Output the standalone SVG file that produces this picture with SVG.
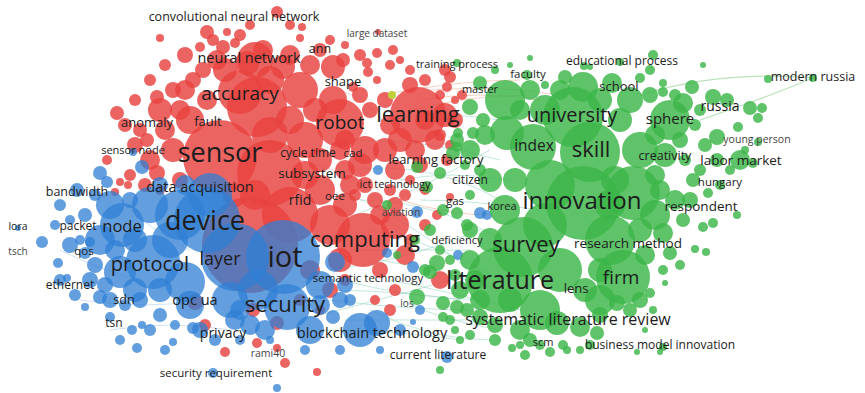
<svg xmlns="http://www.w3.org/2000/svg" width="865" height="393" viewBox="0 0 865 393">
<style>
.r{fill:#e8423f;fill-opacity:.82}
.g{fill:#3cb648;fill-opacity:.82}
.b{fill:#2f7fd4;fill-opacity:.75}
.y{fill:#bfcf3a}
.lt{fill:none;stroke:#8fd3c0;stroke-opacity:.55;stroke-width:1}
.lo{fill:none;stroke:#f2b096;stroke-opacity:.6;stroke-width:1}
.lr{fill:none;stroke:#f3a0a0;stroke-opacity:.5;stroke-width:1}
.lb{fill:none;stroke:#9ec4ea;stroke-opacity:.5;stroke-width:1}
.lg{fill:none;stroke:#a9dca9;stroke-opacity:.8;stroke-width:1.2}
text{font-family:"Open Sans","Noto Sans","DejaVu Sans",sans-serif;fill:#1c1c1c;text-anchor:middle}
.s{fill:#444}
</style>
<rect width="865" height="393" fill="#fff"/>
<g id="connectors">
<path class="lt" d="M350,170 Q430,160 500,200"/>
<path class="lt" d="M360,200 Q440,200 520,250"/>
<path class="lt" d="M370,230 Q430,240 500,280"/>
<path class="lt" d="M380,260 Q440,270 500,290"/>
<path class="lt" d="M340,280 Q420,300 490,300"/>
<path class="lt" d="M330,300 Q410,310 470,310"/>
<path class="lt" d="M345,320 Q420,320 480,320"/>
<path class="lt" d="M310,290 Q400,290 460,300"/>
<path class="lt" d="M360,140 Q430,140 500,160"/>
<path class="lt" d="M380,120 Q440,110 500,120"/>
<path class="lt" d="M400,180 Q450,170 510,180"/>
<path class="lt" d="M420,200 Q470,200 540,210"/>
<path class="lt" d="M350,250 Q420,250 470,250"/>
<path class="lt" d="M390,280 Q440,290 520,310"/>
<path class="lt" d="M320,330 Q400,330 460,340"/>
<path class="lt" d="M400,300 Q440,320 500,330"/>
<path class="lt" d="M370,310 Q430,340 490,340"/>
<path class="lt" d="M330,270 Q410,260 480,230"/>
<path class="lt" d="M340,190 Q410,220 470,270"/>
<path class="lt" d="M355,215 Q420,190 490,150"/>
<path class="lt" d="M300,320 Q380,300 450,280"/>
<path class="lo" d="M420,100 Q480,90 540,100"/>
<path class="lo" d="M410,110 Q470,95 530,95"/>
<path class="lo" d="M430,90 Q500,85 560,95"/>
<path class="lo" d="M380,95 Q460,80 520,80"/>
<path class="lo" d="M400,200 Q450,215 490,215"/>
<path class="lr" d="M300,160 Q340,170 380,190"/>
<path class="lr" d="M320,150 Q350,165 370,180"/>
<path class="lr" d="M340,90 Q370,100 390,130"/>
<path class="lb" d="M60,250 Q100,270 140,280"/>
<path class="lb" d="M80,300 Q150,310 200,300"/>
<path class="lb" d="M120,200 Q150,230 190,250"/>
<path class="lb" d="M110,330 Q170,320 230,330"/>
<path class="lg" d="M640,95 Q720,70 815,78"/>
<path class="lg" d="M700,120 Q760,100 813,78"/>
</g>
<g id="cluster-red">
<circle class="r" cx="250" cy="245" r="48"/>
<circle class="r" cx="220" cy="157" r="37"/>
<circle class="r" cx="257" cy="107" r="30"/>
<circle class="r" cx="240" cy="92" r="22"/>
<circle class="r" cx="270" cy="173" r="33"/>
<circle class="r" cx="290" cy="215" r="28"/>
<circle class="r" cx="340" cy="123" r="24"/>
<circle class="r" cx="418" cy="115" r="28"/>
<circle class="r" cx="363" cy="240" r="27"/>
<circle class="r" cx="330" cy="225" r="20"/>
<circle class="r" cx="255" cy="60" r="18"/>
<circle class="r" cx="300" cy="90" r="18"/>
<circle class="r" cx="283" cy="67" r="12"/>
<circle class="r" cx="333" cy="67" r="12"/>
<circle class="r" cx="333" cy="100" r="14"/>
<circle class="r" cx="305" cy="140" r="18"/>
<circle class="r" cx="365" cy="150" r="14"/>
<circle class="r" cx="320" cy="190" r="15"/>
<circle class="r" cx="345" cy="205" r="12"/>
<circle class="r" cx="395" cy="225" r="14"/>
<circle class="r" cx="385" cy="150" r="12"/>
<circle class="r" cx="395" cy="170" r="10"/>
<circle class="r" cx="405" cy="255" r="10"/>
<circle class="r" cx="320" cy="160" r="12"/>
<circle class="r" cx="190" cy="120" r="14"/>
<circle class="r" cx="180" cy="110" r="10"/>
<circle class="r" cx="207" cy="100" r="10"/>
<circle class="r" cx="173" cy="150" r="12"/>
<circle class="r" cx="157" cy="173" r="8"/>
<circle class="r" cx="165" cy="130" r="10"/>
<circle class="r" cx="140" cy="130" r="7"/>
<circle class="r" cx="147" cy="140" r="7"/>
<circle class="r" cx="117" cy="113" r="7"/>
<circle class="r" cx="157" cy="97" r="7"/>
<circle class="r" cx="173" cy="90" r="8"/>
<circle class="r" cx="193" cy="80" r="8"/>
<circle class="r" cx="203" cy="70" r="8"/>
<circle class="r" cx="217" cy="60" r="10"/>
<circle class="r" cx="247" cy="63" r="12"/>
<circle class="r" cx="263" cy="50" r="10"/>
<circle class="r" cx="207" cy="32" r="7"/>
<circle class="r" cx="213" cy="40" r="6"/>
<circle class="r" cx="200" cy="47" r="5"/>
<circle class="r" cx="227" cy="32" r="4"/>
<circle class="r" cx="223" cy="47" r="7"/>
<circle class="r" cx="235" cy="43" r="5"/>
<circle class="r" cx="160" cy="38" r="4"/>
<circle class="r" cx="277" cy="12" r="6"/>
<circle class="r" cx="302" cy="27" r="4"/>
<circle class="r" cx="300" cy="38" r="4"/>
<circle class="r" cx="320" cy="50" r="7"/>
<circle class="r" cx="343" cy="60" r="7"/>
<circle class="r" cx="367" cy="63" r="5"/>
<circle class="r" cx="368" cy="72" r="5"/>
<circle class="r" cx="377" cy="80" r="4"/>
<circle class="r" cx="353" cy="87" r="5"/>
<circle class="r" cx="377" cy="53" r="5"/>
<circle class="r" cx="393" cy="50" r="5"/>
<circle class="r" cx="378" cy="32" r="3"/>
<circle class="r" cx="107" cy="160" r="5"/>
<circle class="r" cx="120" cy="182" r="4"/>
<circle class="r" cx="128" cy="185" r="4"/>
<circle class="r" cx="115" cy="192" r="4"/>
<circle class="r" cx="255" cy="195" r="15"/>
<circle class="r" cx="235" cy="195" r="12"/>
<circle class="r" cx="345" cy="170" r="10"/>
<circle class="r" cx="365" cy="185" r="8"/>
<circle class="r" cx="375" cy="200" r="8"/>
<circle class="r" cx="355" cy="195" r="6"/>
<circle class="r" cx="390" cy="190" r="6"/>
<circle class="r" cx="405" cy="195" r="6"/>
<circle class="r" cx="410" cy="180" r="5"/>
<circle class="r" cx="425" cy="190" r="5"/>
<circle class="r" cx="380" cy="270" r="8"/>
<circle class="r" cx="395" cy="290" r="6"/>
<circle class="r" cx="390" cy="310" r="6"/>
<circle class="r" cx="375" cy="300" r="5"/>
<circle class="r" cx="410" cy="240" r="6"/>
<circle class="r" cx="425" cy="225" r="6"/>
<circle class="r" cx="437" cy="215" r="5"/>
<circle class="r" cx="450" cy="197" r="4"/>
<circle class="r" cx="440" cy="280" r="9"/>
<circle class="r" cx="447" cy="160" r="6"/>
<circle class="r" cx="450" cy="77" r="6"/>
<circle class="r" cx="447" cy="87" r="5"/>
<circle class="r" cx="440" cy="95" r="5"/>
<circle class="r" cx="455" cy="100" r="4"/>
<circle class="r" cx="440" cy="135" r="6"/>
<circle class="r" cx="450" cy="145" r="5"/>
<circle class="r" cx="445" cy="115" r="12"/>
<circle class="r" cx="435" cy="140" r="10"/>
<circle class="r" cx="400" cy="140" r="12"/>
<circle class="r" cx="385" cy="100" r="8"/>
<circle class="r" cx="410" cy="85" r="8"/>
<circle class="r" cx="360" cy="95" r="8"/>
<circle class="r" cx="370" cy="110" r="8"/>
<circle class="r" cx="425" cy="120" r="10"/>
<circle class="r" cx="195" cy="302" r="8"/>
<circle class="r" cx="253" cy="310" r="7"/>
<circle class="r" cx="277" cy="323" r="7"/>
<circle class="r" cx="257" cy="343" r="5"/>
<circle class="r" cx="277" cy="348" r="4"/>
<circle class="r" cx="225" cy="352" r="5"/>
<circle class="r" cx="285" cy="363" r="5"/>
<circle class="r" cx="317" cy="372" r="4"/>
<circle class="r" cx="205" cy="325" r="6"/>
<circle class="r" cx="310" cy="270" r="10"/>
<circle class="r" cx="330" cy="290" r="8"/>
<circle class="r" cx="345" cy="280" r="6"/>
<circle class="r" cx="300" cy="300" r="6"/>
<circle class="r" cx="320" cy="310" r="5"/>
<circle class="r" cx="160" cy="110" r="12"/>
<circle class="r" cx="150" cy="160" r="10"/>
<circle class="r" cx="135" cy="145" r="8"/>
<circle class="r" cx="125" cy="125" r="7"/>
<circle class="r" cx="185" cy="90" r="10"/>
<circle class="r" cx="225" cy="70" r="12"/>
<circle class="r" cx="270" cy="80" r="14"/>
<circle class="r" cx="290" cy="55" r="10"/>
<circle class="r" cx="310" cy="65" r="10"/>
<circle class="r" cx="315" cy="110" r="12"/>
<circle class="r" cx="290" cy="120" r="14"/>
<circle class="r" cx="360" cy="165" r="12"/>
<circle class="r" cx="340" cy="150" r="10"/>
<circle class="r" cx="350" cy="185" r="10"/>
<circle class="r" cx="380" cy="215" r="10"/>
<circle class="r" cx="340" cy="260" r="12"/>
<circle class="r" cx="395" cy="205" r="8"/>
<circle class="r" cx="415" cy="150" r="10"/>
<circle class="r" cx="420" cy="165" r="8"/>
<circle class="r" cx="390" cy="125" r="10"/>
<circle class="r" cx="455" cy="120" r="8"/>
<circle class="r" cx="445" cy="70" r="6"/>
<circle class="r" cx="462" cy="95" r="5"/>
<circle class="r" cx="150" cy="80" r="6"/>
<circle class="r" cx="135" cy="100" r="6"/>
<circle class="r" cx="165" cy="65" r="6"/>
<circle class="r" cx="185" cy="55" r="8"/>
<circle class="r" cx="240" cy="35" r="6"/>
<circle class="r" cx="250" cy="25" r="5"/>
<circle class="r" cx="290" cy="25" r="5"/>
<circle class="r" cx="330" cy="40" r="5"/>
<circle class="r" cx="345" cy="45" r="4"/>
<circle class="r" cx="360" cy="55" r="6"/>
<circle class="r" cx="390" cy="65" r="5"/>
<circle class="r" cx="400" cy="60" r="4"/>
<circle class="r" cx="410" cy="70" r="5"/>
<circle class="r" cx="425" cy="80" r="6"/>
<circle class="r" cx="130" cy="175" r="6"/>
<circle class="r" cx="145" cy="185" r="7"/>
<circle class="r" cx="160" cy="190" r="5"/>
<circle class="r" cx="180" cy="180" r="8"/>
<circle class="r" cx="345" cy="140" r="10"/>
<circle class="r" cx="270" cy="135" r="18"/>
<circle class="r" cx="305" cy="175" r="14"/>
</g>
<g id="cluster-blue">
<circle class="b" cx="207" cy="220" r="33"/>
<circle class="b" cx="180" cy="215" r="25"/>
<circle class="b" cx="210" cy="195" r="22"/>
<circle class="b" cx="283" cy="257" r="37"/>
<circle class="b" cx="235" cy="257" r="34"/>
<circle class="b" cx="287" cy="307" r="23"/>
<circle class="b" cx="153" cy="262" r="27"/>
<circle class="b" cx="122" cy="225" r="22"/>
<circle class="b" cx="150" cy="205" r="18"/>
<circle class="b" cx="110" cy="205" r="14"/>
<circle class="b" cx="100" cy="240" r="15"/>
<circle class="b" cx="185" cy="282" r="20"/>
<circle class="b" cx="120" cy="272" r="16"/>
<circle class="b" cx="170" cy="240" r="18"/>
<circle class="b" cx="190" cy="305" r="14"/>
<circle class="b" cx="230" cy="300" r="18"/>
<circle class="b" cx="258" cy="290" r="20"/>
<circle class="b" cx="250" cy="325" r="10"/>
<circle class="b" cx="310" cy="330" r="14"/>
<circle class="b" cx="320" cy="285" r="14"/>
<circle class="b" cx="335" cy="262" r="10"/>
<circle class="b" cx="360" cy="330" r="17"/>
<circle class="b" cx="377" cy="323" r="13"/>
<circle class="b" cx="333" cy="317" r="7"/>
<circle class="b" cx="100" cy="173" r="7"/>
<circle class="b" cx="107" cy="182" r="6"/>
<circle class="b" cx="142" cy="167" r="7"/>
<circle class="b" cx="133" cy="152" r="4"/>
<circle class="b" cx="77" cy="190" r="7"/>
<circle class="b" cx="60" cy="205" r="6"/>
<circle class="b" cx="85" cy="215" r="7"/>
<circle class="b" cx="70" cy="220" r="5"/>
<circle class="b" cx="18" cy="228" r="3"/>
<circle class="b" cx="42" cy="242" r="6"/>
<circle class="b" cx="58" cy="263" r="5"/>
<circle class="b" cx="67" cy="278" r="4"/>
<circle class="b" cx="80" cy="240" r="5"/>
<circle class="b" cx="90" cy="242" r="5"/>
<circle class="b" cx="85" cy="253" r="6"/>
<circle class="b" cx="95" cy="265" r="8"/>
<circle class="b" cx="105" cy="285" r="8"/>
<circle class="b" cx="100" cy="297" r="7"/>
<circle class="b" cx="85" cy="307" r="4"/>
<circle class="b" cx="110" cy="317" r="5"/>
<circle class="b" cx="132" cy="330" r="5"/>
<circle class="b" cx="142" cy="325" r="4"/>
<circle class="b" cx="137" cy="348" r="5"/>
<circle class="b" cx="173" cy="342" r="4"/>
<circle class="b" cx="193" cy="328" r="6"/>
<circle class="b" cx="213" cy="373" r="5"/>
<circle class="b" cx="277" cy="388" r="4"/>
<circle class="b" cx="270" cy="340" r="4"/>
<circle class="b" cx="380" cy="350" r="4"/>
<circle class="b" cx="413" cy="322" r="3"/>
<circle class="b" cx="140" cy="300" r="8"/>
<circle class="b" cx="160" cy="315" r="7"/>
<circle class="b" cx="125" cy="305" r="6"/>
<circle class="b" cx="175" cy="325" r="5"/>
<circle class="b" cx="215" cy="340" r="6"/>
<circle class="b" cx="240" cy="340" r="5"/>
<circle class="b" cx="305" cy="350" r="5"/>
<circle class="b" cx="350" cy="300" r="6"/>
<circle class="b" cx="400" cy="330" r="6"/>
<circle class="b" cx="420" cy="310" r="5"/>
<circle class="b" cx="340" cy="350" r="5"/>
<circle class="b" cx="447" cy="357" r="6"/>
<circle class="b" cx="480" cy="213" r="6"/>
<circle class="b" cx="487" cy="215" r="5"/>
<circle class="b" cx="417" cy="212" r="6"/>
<circle class="b" cx="378" cy="170" r="5"/>
<circle class="b" cx="458" cy="255" r="5"/>
<circle class="b" cx="413" cy="267" r="6"/>
<circle class="b" cx="387" cy="253" r="5"/>
<circle class="b" cx="70" cy="245" r="8"/>
<circle class="b" cx="60" cy="280" r="6"/>
<circle class="b" cx="75" cy="295" r="6"/>
<circle class="b" cx="90" cy="280" r="8"/>
<circle class="b" cx="115" cy="250" r="10"/>
<circle class="b" cx="135" cy="240" r="12"/>
<circle class="b" cx="135" cy="290" r="12"/>
<circle class="b" cx="160" cy="290" r="12"/>
<circle class="b" cx="110" cy="300" r="8"/>
<circle class="b" cx="150" cy="330" r="6"/>
<circle class="b" cx="165" cy="350" r="5"/>
<circle class="b" cx="120" cy="340" r="5"/>
<circle class="b" cx="200" cy="330" r="8"/>
<circle class="b" cx="235" cy="320" r="10"/>
<circle class="b" cx="265" cy="330" r="10"/>
<circle class="b" cx="320" cy="305" r="10"/>
<circle class="b" cx="340" cy="300" r="8"/>
<circle class="b" cx="345" cy="285" r="8"/>
<circle class="b" cx="240" cy="310" r="10"/>
<circle class="b" cx="55" cy="225" r="5"/>
<circle class="b" cx="95" cy="195" r="6"/>
<circle class="b" cx="130" cy="200" r="8"/>
<circle class="b" cx="160" cy="185" r="8"/>
<circle class="b" cx="185" cy="185" r="10"/>
</g>
<g id="cluster-green">
<circle class="g" cx="583" cy="203" r="37"/>
<circle class="g" cx="573" cy="117" r="30"/>
<circle class="g" cx="590" cy="152" r="30"/>
<circle class="g" cx="523" cy="247" r="30"/>
<circle class="g" cx="500" cy="280" r="33"/>
<circle class="g" cx="623" cy="277" r="27"/>
<circle class="g" cx="533" cy="147" r="23"/>
<circle class="g" cx="670" cy="120" r="20"/>
<circle class="g" cx="633" cy="193" r="27"/>
<circle class="g" cx="550" cy="185" r="25"/>
<circle class="g" cx="545" cy="225" r="22"/>
<circle class="g" cx="610" cy="240" r="25"/>
<circle class="g" cx="560" cy="270" r="22"/>
<circle class="g" cx="540" cy="310" r="20"/>
<circle class="g" cx="505" cy="100" r="20"/>
<circle class="g" cx="507" cy="133" r="17"/>
<circle class="g" cx="583" cy="87" r="15"/>
<circle class="g" cx="612" cy="83" r="10"/>
<circle class="g" cx="630" cy="100" r="13"/>
<circle class="g" cx="640" cy="150" r="18"/>
<circle class="g" cx="665" cy="155" r="12"/>
<circle class="g" cx="655" cy="215" r="15"/>
<circle class="g" cx="663" cy="233" r="10"/>
<circle class="g" cx="600" cy="300" r="15"/>
<circle class="g" cx="580" cy="327" r="10"/>
<circle class="g" cx="557" cy="323" r="12"/>
<circle class="g" cx="597" cy="333" r="7"/>
<circle class="g" cx="617" cy="303" r="8"/>
<circle class="g" cx="630" cy="310" r="7"/>
<circle class="g" cx="480" cy="317" r="8"/>
<circle class="g" cx="467" cy="310" r="7"/>
<circle class="g" cx="520" cy="330" r="10"/>
<circle class="g" cx="470" cy="150" r="10"/>
<circle class="g" cx="485" cy="135" r="10"/>
<circle class="g" cx="490" cy="180" r="12"/>
<circle class="g" cx="505" cy="210" r="15"/>
<circle class="g" cx="490" cy="240" r="12"/>
<circle class="g" cx="470" cy="260" r="10"/>
<circle class="g" cx="460" cy="290" r="9"/>
<circle class="g" cx="475" cy="280" r="10"/>
<circle class="g" cx="510" cy="300" r="12"/>
<circle class="g" cx="585" cy="290" r="12"/>
<circle class="g" cx="600" cy="315" r="8"/>
<circle class="g" cx="645" cy="255" r="10"/>
<circle class="g" cx="680" cy="265" r="5"/>
<circle class="g" cx="675" cy="200" r="10"/>
<circle class="g" cx="655" cy="175" r="10"/>
<circle class="g" cx="620" cy="120" r="12"/>
<circle class="g" cx="545" cy="110" r="15"/>
<circle class="g" cx="530" cy="90" r="10"/>
<circle class="g" cx="683" cy="103" r="10"/>
<circle class="g" cx="692" cy="87" r="7"/>
<circle class="g" cx="713" cy="97" r="8"/>
<circle class="g" cx="727" cy="100" r="7"/>
<circle class="g" cx="750" cy="108" r="7"/>
<circle class="g" cx="762" cy="108" r="5"/>
<circle class="g" cx="758" cy="118" r="5"/>
<circle class="g" cx="738" cy="127" r="5"/>
<circle class="g" cx="717" cy="137" r="8"/>
<circle class="g" cx="705" cy="145" r="7"/>
<circle class="g" cx="695" cy="125" r="6"/>
<circle class="g" cx="700" cy="110" r="6"/>
<circle class="g" cx="680" cy="140" r="8"/>
<circle class="g" cx="745" cy="150" r="4"/>
<circle class="g" cx="758" cy="142" r="4"/>
<circle class="g" cx="740" cy="160" r="10"/>
<circle class="g" cx="753" cy="163" r="5"/>
<circle class="g" cx="730" cy="170" r="5"/>
<circle class="g" cx="717" cy="160" r="7"/>
<circle class="g" cx="693" cy="180" r="7"/>
<circle class="g" cx="708" cy="193" r="5"/>
<circle class="g" cx="690" cy="200" r="8"/>
<circle class="g" cx="713" cy="223" r="5"/>
<circle class="g" cx="703" cy="227" r="5"/>
<circle class="g" cx="737" cy="215" r="4"/>
<circle class="g" cx="683" cy="220" r="7"/>
<circle class="g" cx="695" cy="249" r="4"/>
<circle class="g" cx="706" cy="252" r="4"/>
<circle class="g" cx="670" cy="253" r="7"/>
<circle class="g" cx="663" cy="270" r="5"/>
<circle class="g" cx="665" cy="283" r="3"/>
<circle class="g" cx="650" cy="293" r="5"/>
<circle class="g" cx="653" cy="310" r="4"/>
<circle class="g" cx="645" cy="330" r="3"/>
<circle class="g" cx="637" cy="352" r="3"/>
<circle class="g" cx="663" cy="347" r="4"/>
<circle class="g" cx="660" cy="352" r="3"/>
<circle class="g" cx="563" cy="345" r="5"/>
<circle class="g" cx="567" cy="350" r="4"/>
<circle class="g" cx="550" cy="352" r="5"/>
<circle class="g" cx="540" cy="345" r="5"/>
<circle class="g" cx="512" cy="348" r="4"/>
<circle class="g" cx="520" cy="345" r="4"/>
<circle class="g" cx="440" cy="370" r="4"/>
<circle class="g" cx="443" cy="303" r="7"/>
<circle class="g" cx="450" cy="320" r="5"/>
<circle class="g" cx="457" cy="307" r="7"/>
<circle class="g" cx="443" cy="317" r="5"/>
<circle class="g" cx="653" cy="55" r="5"/>
<circle class="g" cx="703" cy="65" r="3"/>
<circle class="g" cx="590" cy="67" r="3"/>
<circle class="g" cx="457" cy="63" r="4"/>
<circle class="g" cx="527" cy="75" r="5"/>
<circle class="g" cx="545" cy="85" r="4"/>
<circle class="g" cx="565" cy="77" r="7"/>
<circle class="g" cx="663" cy="83" r="4"/>
<circle class="g" cx="663" cy="92" r="5"/>
<circle class="g" cx="768" cy="79" r="4"/>
<circle class="g" cx="813" cy="78" r="4"/>
<circle class="g" cx="480" cy="83" r="7"/>
<circle class="g" cx="470" cy="107" r="8"/>
<circle class="g" cx="483" cy="120" r="7"/>
<circle class="g" cx="458" cy="133" r="5"/>
<circle class="g" cx="473" cy="133" r="6"/>
<circle class="g" cx="457" cy="147" r="5"/>
<circle class="g" cx="453" cy="153" r="7"/>
<circle class="g" cx="457" cy="140" r="7"/>
<circle class="g" cx="417" cy="167" r="6"/>
<circle class="g" cx="427" cy="187" r="6"/>
<circle class="g" cx="440" cy="173" r="6"/>
<circle class="g" cx="387" cy="205" r="5"/>
<circle class="g" cx="443" cy="210" r="6"/>
<circle class="g" cx="457" cy="213" r="6"/>
<circle class="g" cx="467" cy="225" r="6"/>
<circle class="g" cx="430" cy="230" r="6"/>
<circle class="g" cx="440" cy="250" r="5"/>
<circle class="g" cx="415" cy="240" r="5"/>
<circle class="g" cx="425" cy="270" r="6"/>
<circle class="g" cx="417" cy="297" r="8"/>
<circle class="g" cx="430" cy="272" r="7"/>
<circle class="g" cx="437" cy="263" r="8"/>
<circle class="g" cx="397" cy="255" r="4"/>
<circle class="g" cx="470" cy="195" r="5"/>
<circle class="g" cx="480" cy="170" r="6"/>
<circle class="g" cx="465" cy="165" r="5"/>
<circle class="g" cx="470" cy="230" r="8"/>
<circle class="g" cx="480" cy="300" r="10"/>
<circle class="g" cx="495" cy="325" r="8"/>
<circle class="g" cx="515" cy="180" r="12"/>
<circle class="g" cx="520" cy="110" r="10"/>
<circle class="g" cx="560" cy="90" r="10"/>
<circle class="g" cx="600" cy="100" r="12"/>
<circle class="g" cx="650" cy="95" r="8"/>
<circle class="g" cx="655" cy="135" r="10"/>
<circle class="g" cx="615" cy="180" r="14"/>
<circle class="g" cx="660" cy="190" r="10"/>
<circle class="g" cx="640" cy="230" r="12"/>
<circle class="g" cx="610" cy="205" r="15"/>
<circle class="g" cx="600" cy="270" r="12"/>
<circle class="g" cx="640" cy="300" r="8"/>
<circle class="g" cx="580" cy="350" r="4"/>
<circle class="g" cx="590" cy="345" r="5"/>
<circle class="g" cx="525" cy="355" r="5"/>
<circle class="g" cx="530" cy="340" r="7"/>
<circle class="g" cx="495" cy="340" r="6"/>
<circle class="g" cx="470" cy="335" r="5"/>
<circle class="g" cx="460" cy="340" r="4"/>
<circle class="g" cx="455" cy="275" r="6"/>
<circle class="g" cx="450" cy="260" r="5"/>
<circle class="g" cx="455" cy="330" r="4"/>
<circle class="g" cx="700" cy="170" r="6"/>
<circle class="g" cx="720" cy="185" r="5"/>
<circle class="g" cx="685" cy="160" r="6"/>
<circle class="g" cx="650" cy="70" r="5"/>
<circle class="g" cx="675" cy="95" r="6"/>
<circle class="g" cx="620" cy="62" r="4"/>
<circle class="g" cx="640" cy="78" r="5"/>
<circle class="g" cx="584" cy="66" r="4"/>
<circle class="g" cx="495" cy="70" r="4"/>
<circle class="g" cx="510" cy="65" r="3"/>
<circle class="g" cx="530" cy="58" r="3"/>
<circle class="y" cx="392" cy="95" r="4"/>
</g>
<g id="labels">
<text x="234" y="21" font-size="12.5">convolutional neural network</text>
<text class="s" x="377" y="37" font-size="10">large dataset</text>
<text x="320" y="53" font-size="12.5">ann</text>
<text x="249" y="63" font-size="14.5">neural network</text>
<text x="457" y="68" font-size="11">training process</text>
<text x="528" y="78" font-size="11.5">faculty</text>
<text x="622" y="65" font-size="12">educational process</text>
<text x="813" y="81" font-size="12.5">modern russia</text>
<text x="480" y="93" font-size="11">master</text>
<text x="619" y="91" font-size="13">school</text>
<text x="343" y="86" font-size="13">shape</text>
<text x="240" y="100" font-size="19">accuracy</text>
<text x="418" y="122" font-size="22">learning</text>
<text x="572" y="122" font-size="20">university</text>
<text x="670" y="124" font-size="15">sphere</text>
<text x="720" y="111" font-size="14">russia</text>
<text x="340" y="129" font-size="19">robot</text>
<text x="147" y="127" font-size="13">anomaly</text>
<text x="208" y="126" font-size="13">fault</text>
<text class="s" x="757" y="143" font-size="10.5">young person</text>
<text x="534" y="151" font-size="15.5">index</text>
<text x="591" y="157" font-size="22">skill</text>
<text x="665" y="160" font-size="12.5">creativity</text>
<text x="741" y="165" font-size="13.5">labor market</text>
<text x="133" y="154" font-size="11">sensor node</text>
<text x="220" y="162" font-size="27">sensor</text>
<text x="308" y="157" font-size="12">cycle time</text>
<text x="353" y="157" font-size="11.5">cad</text>
<text x="436" y="164" font-size="13">learning factory</text>
<text x="720" y="186" font-size="11.5">hungary</text>
<text x="312" y="178" font-size="13.5">subsystem</text>
<text x="470" y="184" font-size="12">citizen</text>
<text x="395" y="188" font-size="11">ict technology</text>
<text x="77" y="196" font-size="12.5">bandwidth</text>
<text x="200" y="192" font-size="14.5">data acquisition</text>
<text x="300" y="205" font-size="14">rfid</text>
<text x="335" y="200" font-size="11.5">oee</text>
<text x="455" y="205" font-size="11.5">gas</text>
<text x="582" y="209" font-size="24">innovation</text>
<text x="701" y="211" font-size="13.5">respondent</text>
<text x="502" y="210" font-size="11">korea</text>
<text class="s" x="401" y="216" font-size="10.5">aviation</text>
<text x="205" y="230" font-size="27">device</text>
<text x="18" y="230" font-size="10.5">lora</text>
<text x="78" y="230" font-size="12">packet</text>
<text x="122" y="232" font-size="16.5">node</text>
<text x="365" y="247" font-size="22">computing</text>
<text x="457" y="244" font-size="11">deficiency</text>
<text x="526" y="252" font-size="22">survey</text>
<text x="628" y="248" font-size="13.5">research method</text>
<text class="s" x="18" y="255" font-size="10">tsch</text>
<text x="84" y="255" font-size="11.5">qos</text>
<text x="285" y="267" font-size="29">iot</text>
<text x="220" y="265" font-size="18">layer</text>
<text x="150" y="271" font-size="20">protocol</text>
<text x="368" y="282" font-size="11.5">semantic technology</text>
<text x="500" y="289" font-size="25">literature</text>
<text x="621" y="284" font-size="19">firm</text>
<text x="576" y="293" font-size="13">lens</text>
<text x="70" y="289" font-size="12">ethernet</text>
<text x="124" y="304" font-size="12.5">sdn</text>
<text x="195" y="305" font-size="14.5">opc ua</text>
<text x="285" y="312" font-size="22">security</text>
<text class="s" x="407" y="307" font-size="10">ios</text>
<text x="568" y="325" font-size="16">systematic literature review</text>
<text x="114" y="327" font-size="12">tsn</text>
<text x="223" y="338" font-size="14">privacy</text>
<text x="372" y="338" font-size="14.5">blockchain technology</text>
<text x="543" y="346" font-size="11">scm</text>
<text x="660" y="349" font-size="12">business model innovation</text>
<text class="s" x="268" y="357" font-size="10.5">rami40</text>
<text x="438" y="359" font-size="12">current literature</text>
<text x="216" y="377" font-size="11.5">security requirement</text>
</g>
</svg>
